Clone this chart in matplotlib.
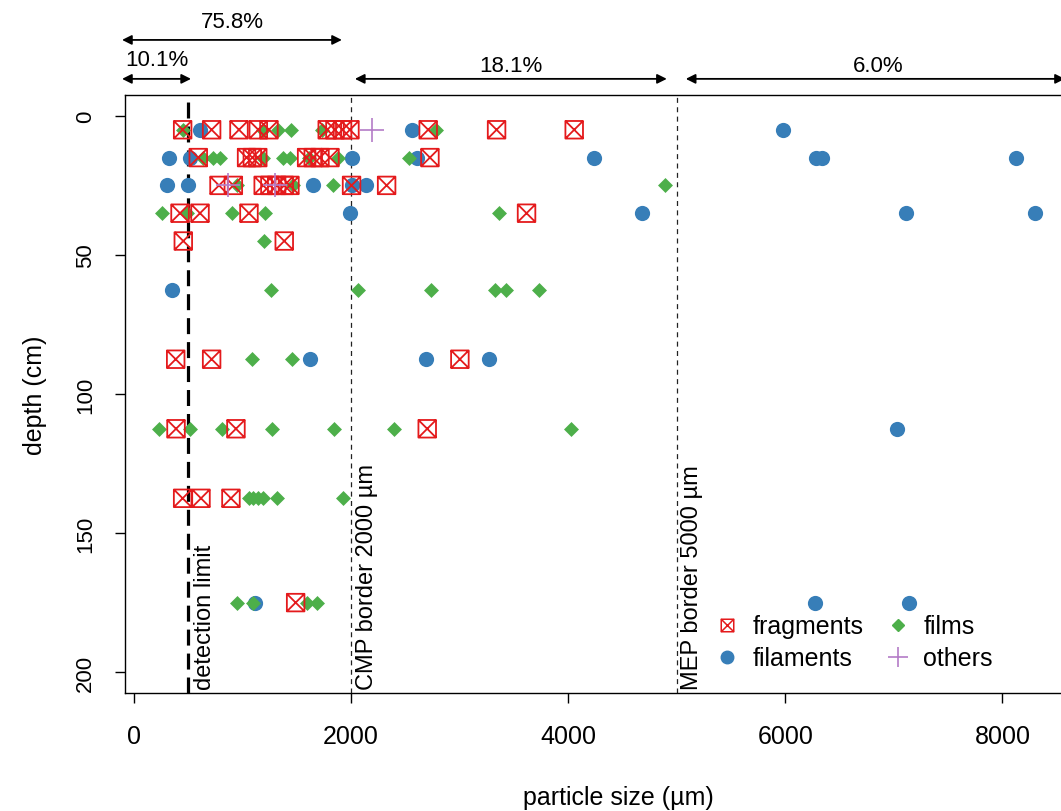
import matplotlib
matplotlib.use("Agg")
import matplotlib.pyplot as plt
from matplotlib.path import Path
from matplotlib.lines import Line2D

plt.rcParams['font.family'] = ['Liberation Sans', 'DejaVu Sans']

# particle size (um) and depth (cm) per particle type
frag_size = [448, 715, 967, 1145, 1243, 1780, 1851, 1921, 1989, 2710, 3340, 4055,
             592, 1037, 1090, 1140, 1590, 1651, 1713, 1805, 2726,
             783, 915, 1190, 1252, 1314, 1384, 1436, 2004, 2327,
             424, 608, 1059, 3616,
             454, 1384,
             384, 715, 3002,
             387, 939, 2701,
             448, 617, 893,
             1489]
frag_depth = [5] * 12 + [15] * 9 + [25] * 9 + [35] * 4 + [45] * 2 + [87.5] * 3 + \
             [112.5] * 3 + [137.5] * 3 + [175]

fil_size = [608, 2557, 5979,
            325, 516, 2004, 2609, 4239, 6280, 6340, 8128,
            301, 500, 1651, 2004, 2136,
            1989, 4684, 7109, 8297,
            353,
            1621, 2686, 3266,
            7025,
            1114, 6271, 7136]
fil_depth = [5] * 3 + [15] * 8 + [25] * 5 + [35] * 4 + [62.5] + [87.5] * 3 + \
            [112.5] + [175] * 3

film_size = [448, 1190, 1323, 1446, 1728, 2780,
             638, 730, 792, 1190, 1375, 1436, 1614, 1881, 2530,
             945, 1467, 1835, 4890,
             261, 485, 899, 1206, 3364,
             1197,
             1258, 2059, 2732, 3324, 3425, 3729,
             1090, 1452,
             233, 516, 807, 1268, 1845, 2394, 4021,
             1060, 1100, 1140, 1190, 1314, 1921,
             951, 1093, 1590, 1682]
film_depth = [5] * 6 + [15] * 9 + [25] * 4 + [35] * 5 + [45] + [62.5] * 6 + \
             [87.5] * 2 + [112.5] * 7 + [137.5] * 6 + [175] * 4

oth_size = [2195, 862, 1298]
oth_depth = [5, 25, 25]

# share of particles per size class (arrow start, arrow end, label)
classes = [(-110, 525, "10.1%"), (-110, 1915, "75.8%"),
           (2035, 4908, "18.1%"), (5083, 8575, "6.0%")]

red, blue, green, purple = '#E41A1C', '#377EB8', '#4DAF4A', '#B47CC7'

# square with a cross inside (R pch 7)
box_x = Path([(-1, -1), (1, -1), (1, 1), (-1, 1), (-1, -1),
              (-1, -1), (1, 1), (-1, 1), (1, -1)],
             [Path.MOVETO, Path.LINETO, Path.LINETO, Path.LINETO, Path.CLOSEPOLY,
              Path.MOVETO, Path.LINETO, Path.MOVETO, Path.LINETO])

fig = plt.figure(figsize=(10.61, 8.12), dpi=100)
ax = fig.add_axes([125 / 1061, 1 - 694 / 812, 986 / 1061, 598 / 812])

ax.scatter(fil_size, fil_depth, s=120, color=blue, marker='o', linewidths=0, zorder=3)
ax.scatter(film_size, film_depth, s=58, color=green, marker='D', linewidths=0, zorder=4)
ax.scatter(frag_size, frag_depth, s=160, marker=box_x, facecolors='none',
           edgecolors=red, linewidths=1.3, zorder=5)
ax.scatter(oth_size, oth_depth, s=290, marker='+', color=purple, linewidths=1.2, zorder=6)

ax.set_xlim(-83, 9000)
ax.set_ylim(207.5, -7.5)

ax.axvline(500, color='black', lw=2.3, ls=(0, (5, 2.5)), zorder=2)
ax.axvline(2000, color='#222222', lw=0.9, ls=(0, (4, 3.5)), zorder=2)
ax.axvline(5000, color='#222222', lw=0.9, ls=(0, (4, 3.5)), zorder=2)

ax.text(650, 206, "detection limit", rotation=90, ha='center', va='bottom', fontsize=17)
ax.text(2145, 206, "CMP border 2000 µm", rotation=90, ha='center', va='bottom', fontsize=17)
ax.text(5138, 206, "MEP border 5000 µm", rotation=90, ha='center', va='bottom', fontsize=17)

# size class arrows above the plot
for x0, x1, lab in classes:
    yy = -27.3 if lab == "75.8%" else -13.3
    ax.annotate("", xy=(x0, yy), xytext=(x1, yy), annotation_clip=False,
                arrowprops=dict(arrowstyle='<|-|>', color='black', lw=1.3,
                                mutation_scale=14, shrinkA=0, shrinkB=0))
    xt = (x0 + x1) / 2 if x1 < 8000 else 6851
    off = 6.8 if lab in ("75.8%", "10.1%") else 4.8
    ax.text(xt, yy - off, lab, ha='center', va='center', fontsize=16, clip_on=False,
            family=['Liberation Sans Narrow', 'Liberation Sans'])

ax.set_xticks([0, 2000, 4000, 6000, 8000])
ax.set_yticks([0, 50, 100, 150, 200])
ax.tick_params(axis='x', length=7, width=1, labelsize=18, pad=15)
ax.tick_params(axis='y', length=7, width=1, labelsize=16, pad=14, labelrotation=90)
for t in ax.get_xticklabels():
    t.set_family(['Liberation Sans Narrow', 'Liberation Sans'])
for t in ax.get_yticklabels():
    t.set_va('center')
for sp in ax.spines.values():
    sp.set_linewidth(1)

ax.set_xlabel("particle size (µm)", fontsize=18, labelpad=27,
              family=['Liberation Sans Narrow', 'Liberation Sans'])
ax.set_ylabel("depth (cm)", fontsize=18, labelpad=20)

handles = [
    Line2D([], [], ls='none', marker=box_x, ms=9, mfc='none', mec=red, mew=1.1),
    Line2D([], [], ls='none', marker='o', ms=9, color=blue),
    Line2D([], [], ls='none', marker='D', ms=6, color=green),
    Line2D([], [], ls='none', marker='+', ms=15, color=purple, mew=1.2),
]
labels = ["fragments", "filaments", "films", "others"]
ax.legend(handles, labels, ncol=2, frameon=False, fontsize=18, loc='lower left',
          bbox_to_anchor=(0.573, 0.0), handletextpad=0.4, columnspacing=0.8,
          labelspacing=0.32, handlelength=1.2)

fig.savefig("out.png", dpi=100)
